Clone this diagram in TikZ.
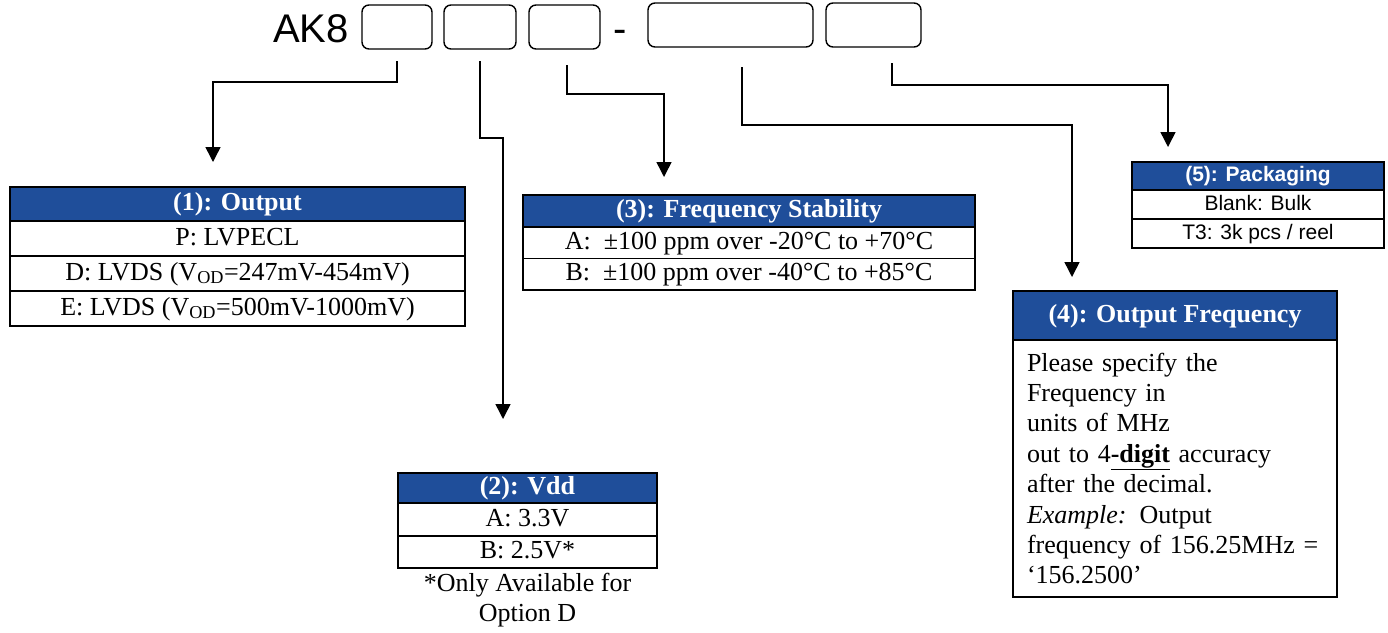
\documentclass[tikz,border=0pt]{standalone}
\usepackage{fontspec}
\setmainfont{Liberation Serif}
\setsansfont{Liberation Sans}
\usetikzlibrary{arrows.meta}
\definecolor{hdrblue}{RGB}{31,78,154}
\tikzset{
  slot/.style={draw, rounded corners=7pt, line width=1.4pt, minimum height=44pt, inner sep=0pt, outer sep=0pt},
  conn/.style={line width=1.5pt, -{Triangle[width=15pt,length=15pt]}},
  cell/.style={draw, line width=1.8pt, inner sep=0pt, outer sep=0pt, text height=18pt, text depth=5pt,
    font=\fontsize{26}{30}\selectfont},
  hdr/.style={cell, fill=hdrblue, text=white, font=\fontsize{26}{30}\selectfont\bfseries},
  scell/.style={cell, text height=15pt, text depth=4pt, font=\fontsize{21}{25}\sffamily},
  shdr/.style={scell, fill=hdrblue, text=white, font=\fontsize{21}{25}\sffamily\bfseries},
}
\begin{document}
\begin{tikzpicture}[x=1pt, y=-1pt]
      \useasboundingbox (0,0) rectangle (1388,632);
      % part number
      \node[anchor=base east, inner sep=0pt, font=\fontsize{40}{44}\sffamily] (pn) at (349,42) {AK8};
      \node[slot, minimum width=70pt] (b1) at (397,27) {};
      \node[slot, minimum width=72pt] (b2) at (480,27) {};
      \node[slot, minimum width=71pt] (b3) at (564.5,27) {};
      \node[anchor=base, inner sep=0pt, font=\fontsize{40}{44}\sffamily] (dash) at (620,42) {-};
      \node[slot, minimum width=165pt] (b4) at (730.5,25) {};
      \node[slot, minimum width=95pt] (b5) at (873.5,25) {};
      % (1) output
      \node[hdr, anchor=north west, minimum width=455pt, minimum height=34pt] (t1) at (10,187) {(1): Output};
      \node[cell, anchor=north, minimum width=455pt, minimum height=35pt] (t1a) at (t1.south) {P: LVPECL};
      \node[cell, anchor=north, minimum width=455pt, minimum height=35pt] (t1b) at (t1a.south) {D: LVDS (V\textsubscript{OD}=247mV-454mV)};
      \node[cell, anchor=north, minimum width=455pt, minimum height=35pt] (t1c) at (t1b.south) {E: LVDS (V\textsubscript{OD}=500mV-1000mV)};
      % (2) vdd
      \node[hdr, anchor=north west, minimum width=259pt, minimum height=30pt] (t2) at (398,473) {(2): Vdd};
      \node[cell, anchor=north, minimum width=259pt, minimum height=33pt] (t2a) at (t2.south) {A: 3.3V};
      \node[cell, anchor=north, minimum width=259pt, minimum height=32pt] (t2b) at (t2a.south) {B: 2.5V*};
      \node[anchor=north, align=center, inner sep=0pt, font=\fontsize{26}{30}\selectfont] (note) at ([yshift=-5pt]t2b.south) {*Only Available for\\Option D};
      % (3) stability
      \node[hdr, anchor=north west, minimum width=452pt, minimum height=32pt] (t3) at (523,195) {(3): Frequency Stability};
      \node[cell, anchor=north, minimum width=452pt, minimum height=31.5pt] (t3a) at (t3.south) {A:\ \ ±100 ppm over -20°C to +70°C};
      \node[cell, anchor=north, minimum width=452pt, minimum height=31.5pt] (t3b) at (t3a.south) {B:\ \ ±100 ppm over -40°C to +85°C};
      % (4) frequency
      \node[hdr, anchor=north west, minimum width=324pt, minimum height=49pt] (t4) at (1013,291) {(4): Output Frequency};
      \node[draw, line width=1.8pt, outer sep=0pt, anchor=north, minimum width=324pt, minimum height=257pt,
        text width=296pt, inner xsep=14pt, inner ysep=0pt, align=left,
        font=\fontsize{26}{30.4}\selectfont] (t4a) at (t4.south)
        {Please specify the\\
         Frequency in\\
         units of MHz\\
         out to 4\textbf{\underline{-digit}} accuracy\\
         after the decimal.\\
         \textit{Example:} Output\\
         frequency of 156.25MHz =\\
         `156.2500'};
      % (5) packaging
      \node[shdr, anchor=north west, minimum width=252pt, minimum height=28pt] (t5) at (1132,162) {(5): Packaging};
      \node[scell, anchor=north, minimum width=252pt, minimum height=29pt] (t5a) at (t5.south) {Blank: Bulk};
      \node[scell, anchor=north, minimum width=252pt, minimum height=29pt] (t5b) at (t5a.south) {T3: 3k pcs / reel};
      % arrow tips
      \coordinate (tip1) at (213,162);
      \coordinate (tip2) at (503,419);
      \coordinate (tip3) at (664,177);
      \coordinate (tip4) at (1072,277);
      \coordinate (tip5) at (1168,147);
      \draw[conn] ([yshift=-12pt]b1.south) -- ++(0,21) -| (tip1);
      \draw[conn] ([yshift=-12pt]b2.south) -- ++(0,77) -| (tip2);
      \draw[conn] ([shift={(2.5pt,-16pt)}]b3.south) -- ++(0,29) -| (tip3);
      \draw[conn] ([shift={(11.5pt,-20pt)}]b4.south) -- ++(0,58) -| (tip4);
      \draw[conn] ([shift={(18.5pt,-16pt)}]b5.south) -- ++(0,22) -| (tip5);
    \end{tikzpicture}
\end{document}
